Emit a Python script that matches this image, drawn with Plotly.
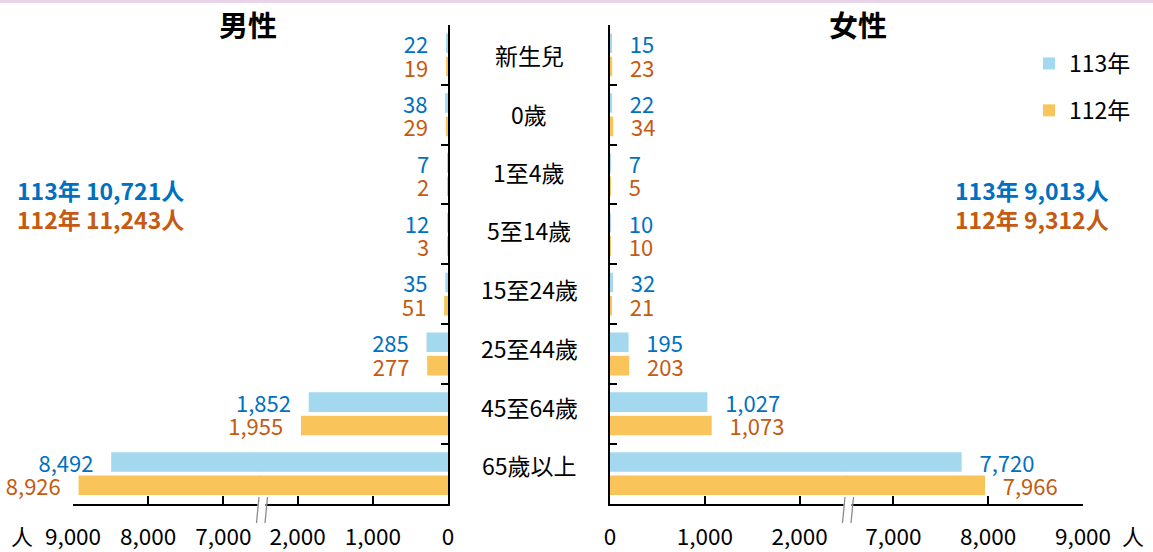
import plotly.graph_objects as go

# ---------------- data ----------------
categories = ["新生兒", "0歲", "1至4歲", "5至14歲", "15至24歲", "25至44歲", "45至64歲", "65歲以上"]
male_113 = [22, 38, 7, 12, 35, 285, 1852, 8492]
male_112 = [19, 29, 2, 3, 51, 277, 1955, 8926]
female_113 = [15, 22, 7, 10, 32, 195, 1027, 7720]
female_112 = [23, 34, 5, 10, 21, 203, 1073, 7966]
series_names = ["113年", "112年"]
male_totals = ["113年 10,721人", "112年 11,243人"]
female_totals = ["113年 9,013人", "112年 9,312人"]
near_ticks = [0, 1000, 2000]
far_ticks = [7000, 8000, 9000]
near_max = 2500      # axis break: lower segment ends here
far_min = 6500       # axis break: upper segment starts here
far_max = 9000

# ---------------- styling ----------------
W, H = 1153, 552
FONT = "Noto Sans CJK TC"
BAR_BLUE = "#A4D8EE"
BAR_ORANGE = "#F9C55A"
TXT_BLUE = "#0070C0"
TXT_ORANGE = "#C55A11"
NB = "\u00a0"
LABEL_YSHIFT = [0, 1, 3, 4, 5, 6, 7, 9]


def px(x):
    return x / W


def py(y):
    return 1 - y / H


# pixel layout of the panels (segments overlap by 1px to avoid a seam)
L_FAR = (73, 261)
L_NEAR = (260, 448)
R_NEAR = (610, 847)
R_FAR = (846, 1083)
L_BREAK, R_BREAK = 260.5, 846.5
Y_TOP, Y_BOT = 25, 503.5


def fmt(v):
    return f"{v:,}"


def labels(vals, lo, hi, left):
    out = []
    for v in vals:
        if lo <= v <= hi:
            out.append(fmt(v) + NB * 3 if left else NB * 3 + fmt(v))
        else:
            out.append("")
    return out


fig = go.Figure()

panels = [
    ("x", "y", male_113, male_112, far_min, far_max, True, False),
    ("x2", "y", male_113, male_112, 0, near_max, True, False),
    ("x3", "y2", female_113, female_112, 0, near_max, False, True),
    ("x4", "y2", female_113, female_112, far_min, far_max, False, False),
]

for xa, ya, v113, v112, lo, hi, left, showleg in panels:
    for name, vals, bc, tc in [
        (series_names[0], v113, BAR_BLUE, TXT_BLUE),
        (series_names[1], v112, BAR_ORANGE, TXT_ORANGE),
    ]:
        fig.add_trace(go.Bar(
            y=categories, x=vals, orientation="h", name=name,
            xaxis=xa, yaxis=ya,
            marker=dict(color=bc, line=dict(width=0)),
            text=labels(vals, lo, hi, left), textposition="outside",
            textfont=dict(color=tc, size=22, family=FONT),
            constraintext="none", cliponaxis=False,
            legendgroup=name, showlegend=showleg,
            hoverinfo="x+y",
        ))

axis_common = dict(
    showline=True, linecolor="black", linewidth=2, mirror=False,
    ticks="inside", ticklen=8, tickwidth=1.5, tickcolor="black",
    showgrid=False, zeroline=False,
    tickfont=dict(size=22.5, color="black", family=FONT),
    ticklabelstandoff=12, automargin=False,
)

yaxis_common = dict(
    type="category", categoryorder="array", categoryarray=categories,
    range=[len(categories) - 0.5, -0.5],
    domain=[py(Y_BOT), py(Y_TOP)],
    showline=True, linecolor="black", linewidth=2,
    ticks="inside", tickson="boundaries", ticklen=7, tickwidth=1.5, tickcolor="black",
    showticklabels=False, showgrid=False, zeroline=False, automargin=False,
)

fig.update_layout(
    width=W, height=H, margin=dict(l=0, r=0, t=0, b=0, pad=0, autoexpand=False),
    paper_bgcolor="white", plot_bgcolor="rgba(0,0,0,0)",
    font=dict(family=FONT, color="black"),
    barmode="group", bargap=0.22, bargroupgap=0.16,
    xaxis=dict(domain=[px(L_FAR[0]), px(L_FAR[1])], range=[far_max, far_min], anchor="y",
               tickvals=far_ticks, ticktext=[fmt(t) for t in far_ticks], **axis_common),
    xaxis2=dict(domain=[px(L_NEAR[0]), px(L_NEAR[1])], range=[near_max, 0], anchor="y",
                tickvals=near_ticks, ticktext=[fmt(t) for t in near_ticks], **axis_common),
    xaxis3=dict(domain=[px(R_NEAR[0]), px(R_NEAR[1])], range=[0, near_max], anchor="y2",
                tickvals=near_ticks, ticktext=[fmt(t) for t in near_ticks], **axis_common),
    xaxis4=dict(domain=[px(R_FAR[0]), px(R_FAR[1])], range=[far_min, far_max], anchor="y2",
                tickvals=far_ticks, ticktext=[fmt(t) for t in far_ticks], **axis_common),
    yaxis=dict(anchor="x2", side="right", **yaxis_common),
    yaxis2=dict(anchor="x3", side="left", matches="y", **yaxis_common),
    legend=dict(
        x=px(1029), y=py(42), xanchor="left", yanchor="top",
        font=dict(size=23, family=FONT, color="black"),
        tracegroupgap=14, bgcolor="rgba(0,0,0,0)", itemclick=False,
    ),
    showlegend=True,
)

annotations = []
for c, ys in zip(categories, LABEL_YSHIFT):
    annotations.append(dict(
        x=px(529), xref="paper", y=c, yref="y", text=c, showarrow=False, yshift=ys,
        xanchor="center", yanchor="middle", font=dict(size=23, color="black", family=FONT),
    ))
annotations.append(dict(x=px(248), y=py(24), xref="paper", yref="paper", text="<b>男性</b>",
                        xanchor="center", yanchor="middle",
                        showarrow=False, font=dict(size=29, color="black", family=FONT)))
annotations.append(dict(x=px(858), y=py(24), xref="paper", yref="paper", text="<b>女性</b>",
                        xanchor="center", yanchor="middle",
                        showarrow=False, font=dict(size=29, color="black", family=FONT)))
for i, (t, col) in enumerate(zip(male_totals, [TXT_BLUE, TXT_ORANGE])):
    annotations.append(dict(x=px(15), y=py(190 + 29 * i), xref="paper", yref="paper", text=f"<b>{t}</b>",
                            xanchor="left", yanchor="middle", showarrow=False,
                            font=dict(size=23, color=col, family=FONT)))
for i, (t, col) in enumerate(zip(female_totals, [TXT_BLUE, TXT_ORANGE])):
    annotations.append(dict(x=px(1111), y=py(190 + 29 * i), xref="paper", yref="paper", text=f"<b>{t}</b>",
                            xanchor="right", yanchor="middle", showarrow=False,
                            font=dict(size=23, color=col, family=FONT)))
annotations.append(dict(x=px(22), y=py(535), xref="paper", yref="paper", text="人", showarrow=False,
                        xanchor="center", yanchor="middle",
                        font=dict(size=22, color="black", family=FONT)))
annotations.append(dict(x=px(1133), y=py(535), xref="paper", yref="paper", text="人", showarrow=False,
                        xanchor="center", yanchor="middle",
                        font=dict(size=22, color="black", family=FONT)))
fig.update_layout(annotations=annotations)

shapes = [
    dict(type="rect", xref="paper", yref="paper", x0=0, x1=1, y0=py(3), y1=1,
         fillcolor="#E8D3E8", line=dict(width=0), layer="above"),
]
for bx in (L_BREAK, R_BREAK):
    shapes.append(dict(type="rect", xref="paper", yref="paper",
                       x0=px(bx - 3), x1=px(bx + 5), y0=py(509), y1=py(497),
                       fillcolor="white", line=dict(width=0), layer="above"))
    shapes.append(dict(type="line", xref="paper", yref="paper",
                       x0=px(bx - 1.5), y0=py(497), x1=px(bx - 4), y1=py(523),
                       line=dict(color="#8C8C8C", width=1.3), layer="above"))
    shapes.append(dict(type="line", xref="paper", yref="paper",
                       x0=px(bx + 7), y0=py(497), x1=px(bx + 4.5), y1=py(523),
                       line=dict(color="#8C8C8C", width=1.3), layer="above"))
fig.update_layout(shapes=shapes)

fig.write_html("out.html", config={"displayModeBar": False},
               post_script="document.body.style.margin='0px';")
